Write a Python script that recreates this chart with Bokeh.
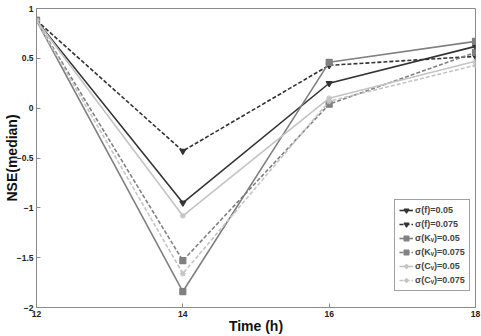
from bokeh.plotting import figure
from bokeh.embed import file_html
from bokeh.resources import INLINE
from bokeh.models import Range1d, FixedTicker, Legend, LegendItem

time_h = [12, 14, 16, 18]
f_005 = [0.88, -0.95, 0.25, 0.62]
f_0075 = [0.88, -0.43, 0.43, 0.52]
kv_005 = [0.88, -1.84, 0.46, 0.67]
kv_0075 = [0.88, -1.53, 0.04, 0.56]
cv_005 = [0.88, -1.08, 0.10, 0.47]
cv_0075 = [0.88, -1.66, 0.07, 0.43]
labels = ["σ(f)=0.05", "σ(f)=0.075", "σ(Kᵥ)=0.05", "σ(Kᵥ)=0.075", "σ(Cᵥ)=0.05", "σ(Cᵥ)=0.075"]
x_ticks = [12, 14, 16, 18]
y_ticks = [-2, -1.5, -1, -0.5, 0, 0.5, 1]

FONT = "Liberation Sans"

p = figure(width=481, height=336, output_backend="svg", toolbar_location=None,
           x_range=Range1d(12, 18), y_range=Range1d(-2, 1))
p.min_border_top = 8
p.min_border_right = 6
p.min_border_left = 0
p.min_border_bottom = 0
p.xgrid.visible = False
p.ygrid.visible = False
p.outline_line_color = "#8a8a8a"
p.background_fill_color = "white"
p.border_fill_color = "white"

for ax in (p.xaxis[0], p.yaxis[0]):
    ax.axis_line_color = "#8a8a8a"
    ax.major_tick_line_color = "#8a8a8a"
    ax.major_tick_in = 4
    ax.major_tick_out = 0
    ax.minor_tick_line_color = None
    ax.major_label_text_font = FONT
    ax.major_label_text_font_style = "bold"
    ax.major_label_text_font_size = "8.5px"
    ax.major_label_text_color = "#222222"
    ax.axis_label_text_font = FONT
    ax.axis_label_text_font_style = "bold"
    ax.axis_label_text_font_size = "14px"
    ax.axis_label_text_color = "#111111"
    ax.major_label_standoff = 3

p.yaxis[0].axis_label_standoff = -6
p.xaxis[0].axis_label_standoff = -2
p.xaxis[0].ticker = FixedTicker(ticks=x_ticks)
p.yaxis[0].ticker = FixedTicker(ticks=y_ticks)
p.xaxis[0].axis_label = "Time (h)"
p.yaxis[0].axis_label = "NSE(median)"

series = [
    (f_005, "#333333", "solid", "inverted_triangle"),
    (f_0075, "#333333", "4 2", "inverted_triangle"),
    (kv_005, "#808080", "solid", "square"),
    (kv_0075, "#808080", "4 2", "square"),
    (cv_005, "#c4c4c4", "solid", "asterisk"),
    (cv_0075, "#c4c4c4", "4 2", "asterisk"),
]

items = []
for (vals, col, dash, mk), lab in zip(series, labels):
    r1 = p.line(time_h, vals, line_color=col, line_width=1.6, line_dash=dash)
    r2 = p.scatter(time_h, vals, marker=mk, size=6, fill_color=col, line_color=col, line_width=1.2)
    items.append(LegendItem(label=lab, renderers=[r1, r2]))

leg = Legend(items=items, location=(358, 16))
leg.label_text_font = FONT
leg.label_text_font_style = "bold"
leg.label_text_font_size = "9px"
leg.label_height = 12
leg.glyph_height = 12
leg.glyph_width = 14
leg.spacing = 2
leg.padding = 4
leg.margin = 0
leg.label_standoff = 2
leg.border_line_color = "#444444"
leg.border_line_width = 1
leg.background_fill_alpha = 1.0
p.add_layout(leg, "center")

open("out.html", "w").write(file_html(p, INLINE))
